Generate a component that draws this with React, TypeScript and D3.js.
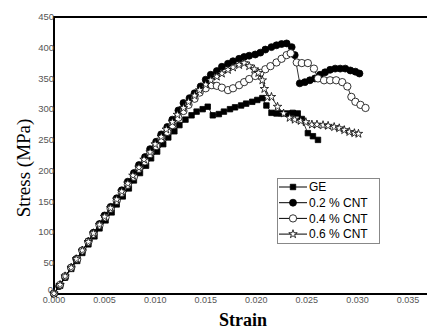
import { useEffect, useRef } from "react";
import * as d3 from "d3";

// strain / stress readings for each sample
const geStrain = [0, 0.0006, 0.0011, 0.0017, 0.0023, 0.0028, 0.0034, 0.004, 0.0045, 0.0051, 0.0057, 0.0062, 0.0068, 0.0074, 0.0079, 0.0085, 0.0091, 0.0096, 0.0102, 0.0108, 0.0113, 0.0119, 0.0124, 0.013, 0.0136, 0.0141, 0.0147, 0.0152, 0.0157, 0.0163, 0.0168, 0.0174, 0.0179, 0.0185, 0.019, 0.0196, 0.0201, 0.0206, 0.021, 0.0215, 0.022, 0.0225, 0.0231, 0.0236, 0.0241, 0.0245, 0.0251, 0.0256, 0.0261];
const geStress = [0, 13, 26, 40, 53, 66, 80, 93, 106, 119, 132, 145, 158, 171, 184, 196, 208, 220, 231, 243, 254, 264, 274, 283, 290, 296, 300, 304, 290, 292, 296, 300, 303, 306, 309, 312, 315, 318, 306, 294, 293, 293, 293, 294, 293, 284, 261, 256, 250];

const cnt02Strain = [0, 0.0005, 0.0011, 0.0017, 0.0022, 0.0028, 0.0034, 0.0039, 0.0045, 0.005, 0.0056, 0.0062, 0.0067, 0.0073, 0.0079, 0.0084, 0.009, 0.0095, 0.0101, 0.0106, 0.0112, 0.0117, 0.0123, 0.0128, 0.0134, 0.0139, 0.0145, 0.015, 0.0155, 0.0161, 0.0166, 0.0172, 0.0177, 0.0183, 0.0188, 0.0193, 0.0199, 0.0204, 0.0209, 0.0215, 0.022, 0.0225, 0.023, 0.0235, 0.0238, 0.0243, 0.0248, 0.0253, 0.0258, 0.0263, 0.0268, 0.0273, 0.0278, 0.0283, 0.0288, 0.0293, 0.0298, 0.0302];
const cnt02Stress = [0, 12, 27, 42, 56, 70, 85, 99, 113, 127, 141, 155, 168, 182, 196, 209, 222, 235, 247, 259, 271, 283, 298, 310, 318, 326, 337, 348, 356, 362, 369, 374, 378, 382, 385, 387, 389, 392, 397, 401, 404, 406, 407, 401, 388, 342, 344, 347, 350, 356, 360, 364, 366, 366, 366, 363, 361, 358];

const cnt04Strain = [0, 0.0006, 0.0011, 0.0017, 0.0023, 0.0028, 0.0034, 0.0039, 0.0045, 0.0051, 0.0056, 0.0062, 0.0067, 0.0073, 0.0079, 0.0084, 0.009, 0.0095, 0.0101, 0.0106, 0.0112, 0.0117, 0.0123, 0.0128, 0.0133, 0.0139, 0.0144, 0.015, 0.0156, 0.0161, 0.0166, 0.0172, 0.0177, 0.0183, 0.0188, 0.0193, 0.0199, 0.0204, 0.0209, 0.0214, 0.022, 0.0225, 0.023, 0.0234, 0.024, 0.0245, 0.0251, 0.0257, 0.0261, 0.0267, 0.0273, 0.0279, 0.0285, 0.029, 0.0294, 0.0298, 0.0303, 0.0308];
const cnt04Stress = [0, 14, 28, 42, 56, 70, 84, 97, 111, 124, 138, 151, 164, 177, 190, 203, 215, 227, 240, 251, 263, 274, 286, 297, 307, 317, 327, 334, 339, 338, 335, 331, 334, 339, 344, 349, 354, 359, 365, 370, 376, 382, 388, 391, 376, 375, 375, 366, 350, 347, 347, 347, 344, 337, 320, 312, 307, 302];

const cnt06Strain = [0, 0.0006, 0.0011, 0.0017, 0.0022, 0.0028, 0.0034, 0.0039, 0.0045, 0.005, 0.0056, 0.0062, 0.0067, 0.0073, 0.0078, 0.0084, 0.0089, 0.0095, 0.01, 0.0106, 0.0111, 0.0117, 0.0122, 0.0128, 0.0133, 0.0139, 0.0144, 0.015, 0.0155, 0.0161, 0.0166, 0.0172, 0.0177, 0.0183, 0.0188, 0.0193, 0.0198, 0.0202, 0.0206, 0.0208, 0.0211, 0.0215, 0.0221, 0.0227, 0.0233, 0.0238, 0.0244, 0.0249, 0.0255, 0.026, 0.0266, 0.0271, 0.0277, 0.0282, 0.0287, 0.0292, 0.0297, 0.0301];
const cnt06Stress = [0, 14, 28, 42, 56, 70, 84, 98, 112, 125, 139, 153, 166, 179, 192, 205, 218, 230, 243, 255, 267, 279, 291, 302, 312, 322, 331, 340, 347, 353, 358, 364, 368, 372, 375, 370, 365, 359, 347, 333, 320, 320, 304, 293, 286, 283, 281, 279, 275, 275, 274, 273, 271, 269, 266, 263, 261, 260];

const seriesNames = ["GE", "0.2 % CNT", "0.4 % CNT", "0.6 % CNT"];
const xTicks = [0, 0.005, 0.01, 0.015, 0.02, 0.025, 0.03, 0.035];
const yTicks = [0, 50, 100, 150, 200, 250, 300, 350, 400, 450];

const series = [
  { name: seriesNames[0], x: geStrain, y: geStress, symbol: d3.symbolSquare, size: 30, fill: "#000" },
  { name: seriesNames[1], x: cnt02Strain, y: cnt02Stress, symbol: d3.symbolCircle, size: 38, fill: "#000" },
  { name: seriesNames[2], x: cnt04Strain, y: cnt04Stress, symbol: d3.symbolCircle, size: 42, fill: "#fff" },
  { name: seriesNames[3], x: cnt06Strain, y: cnt06Stress, symbol: d3.symbolStar, size: 22, fill: "#fff" },
];

const W = 427;
const H = 329;

export default function App() {
  const ref = useRef<SVGSVGElement>(null);

  useEffect(() => {
    const svg = d3.select(ref.current);
    svg.selectAll("*").remove();

    const x = d3.scaleLinear().domain([0, 0.035]).range([54, 408]);
    const y = d3.scaleLinear().domain([0, 450]).range([293.5, 17]);

    // frame: left, bottom, top (right edge runs off the picture)
    svg.append("line").attr("x1", 54).attr("x2", 54).attr("y1", 16).attr("y2", 294.5)
      .attr("stroke", "#000").attr("stroke-width", 2);
    svg.append("line").attr("x1", 53).attr("x2", W).attr("y1", 294).attr("y2", 294)
      .attr("stroke", "#000").attr("stroke-width", 2);
    svg.append("line").attr("x1", 53).attr("x2", W).attr("y1", 17).attr("y2", 17)
      .attr("stroke", "#000").attr("stroke-width", 2);

    // tick labels
    svg.append("g").selectAll("text").data(xTicks).enter().append("text")
      .attr("x", (d) => x(d))
      .attr("y", 303)
      .attr("text-anchor", "middle")
      .style("font-family", "Liberation Sans, Arial, sans-serif")
      .style("font-size", "9px")
      .style("fill", "#555")
      .text((d) => d3.format(".3f")(d));

    svg.append("g").selectAll("text").data(yTicks).enter().append("text")
      .attr("x", (d) => (d === 0 ? 53 : 54))
      .attr("y", (d) => (d === 0 ? y(d) - 4 : y(d)))
      .attr("dy", "0.35em")
      .attr("text-anchor", "end")
      .style("font-family", "Liberation Sans, Arial, sans-serif")
      .style("font-size", "9.5px")
      .style("fill", "#555")
      .text((d) => d);

    // axis titles
    svg.append("text")
      .attr("transform", "translate(30,168) rotate(-90)")
      .attr("text-anchor", "middle")
      .style("font-family", "Liberation Serif, Times New Roman, serif")
      .style("font-size", "19px")
      .text("Stress (MPa)");

    svg.append("text")
      .attr("x", 243)
      .attr("y", 326)
      .attr("text-anchor", "middle")
      .style("font-family", "Liberation Serif, Times New Roman, serif")
      .style("font-size", "18px")
      .style("font-weight", "bold")
      .text("Strain");

    const line = d3.line<number>();

    series.forEach((s) => {
      const pts: [number, number][] = s.x.map((v, i) => [x(v), y(s.y[i])]);
      const g = svg.append("g");
      g.append("path")
        .attr("d", line(pts as any) as string)
        .attr("fill", "none")
        .attr("stroke", "#000")
        .attr("stroke-width", 0.8);
      g.selectAll("path.pt").data(pts).enter().append("path")
        .attr("class", "pt")
        .attr("transform", (d) => `translate(${d[0]},${d[1]})`)
        .attr("d", d3.symbol().type(s.symbol).size(s.size)() as string)
        .attr("fill", s.fill)
        .attr("stroke", "#000")
        .attr("stroke-width", 0.8);
    });

    // legend
    const lg = svg.append("g");
    lg.append("rect").attr("x", 277.5).attr("y", 178.5).attr("width", 102).attr("height", 65)
      .attr("fill", "#fff").attr("stroke", "#888").attr("stroke-width", 1);
    series.forEach((s, i) => {
      const cy = 187 + i * 15.7;
      lg.append("line").attr("x1", 279).attr("x2", 307).attr("y1", cy).attr("y2", cy)
        .attr("stroke", "#000").attr("stroke-width", 1);
      lg.append("path")
        .attr("transform", `translate(293,${cy})`)
        .attr("d", d3.symbol().type(s.symbol).size(s.size)() as string)
        .attr("fill", s.fill).attr("stroke", "#000").attr("stroke-width", 0.8);
      lg.append("text")
        .attr("x", 309).attr("y", cy).attr("dy", "0.36em")
        .style("font-family", "Liberation Sans, Arial, sans-serif")
        .style("font-size", "12px")
        .text(s.name);
    });
  }, []);

  return (
    <svg
      ref={ref}
      width={W}
      height={H}
      style={{ position: "absolute", left: 0, top: 0, background: "#fff" }}
    />
  );
}
